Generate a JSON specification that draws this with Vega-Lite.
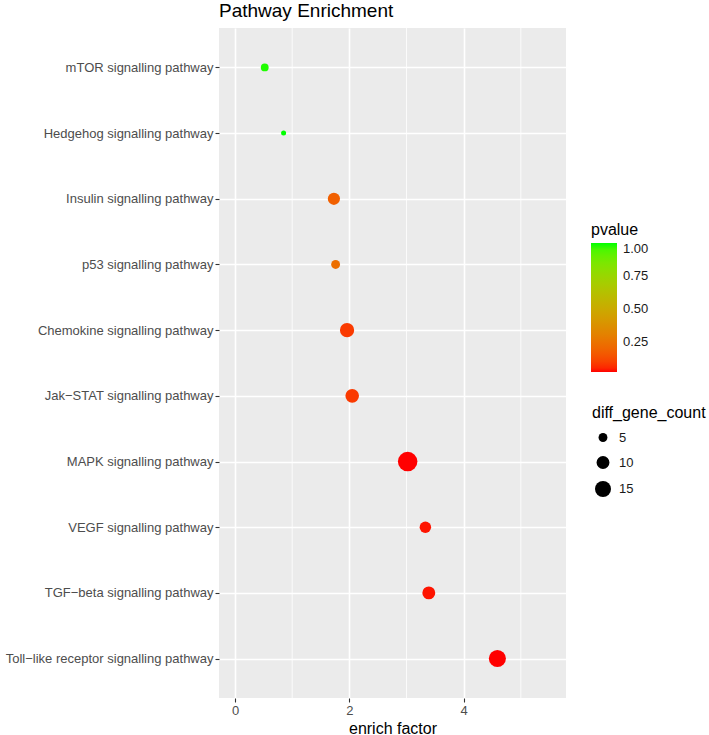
{
  "$schema": "https://vega.github.io/schema/vega-lite/v6.json",
  "width": 347,
  "height": 670,
  "autosize": {"type": "none"},
  "padding": {"left": 219, "top": 28, "right": 143, "bottom": 37},
  "background": "white",
  "title": {
    "text": "Pathway Enrichment",
    "anchor": "start",
    "frame": "group",
    "fontSize": 19,
    "fontWeight": "normal",
    "font": "Liberation Sans",
    "color": "#000000",
    "baseline": "bottom",
    "offset": -12
  },
  "config": {
    "view": {"fill": "#EBEBEB", "stroke": null},
    "font": "Liberation Sans"
  },
  "datasets": {
    "pathways": [
      {"pathway": "mTOR signalling pathway", "enrich_factor": 0.52, "pvalue": 0.99, "diff_gene_count": 4},
      {"pathway": "Hedgehog signalling pathway", "enrich_factor": 0.85, "pvalue": 1.0, "diff_gene_count": 2},
      {"pathway": "Insulin signalling pathway", "enrich_factor": 1.73, "pvalue": 0.18, "diff_gene_count": 9},
      {"pathway": "p53 signalling pathway", "enrich_factor": 1.76, "pvalue": 0.23, "diff_gene_count": 5},
      {"pathway": "Chemokine signalling pathway", "enrich_factor": 1.96, "pvalue": 0.08, "diff_gene_count": 12},
      {"pathway": "Jak−STAT signalling pathway", "enrich_factor": 2.05, "pvalue": 0.08, "diff_gene_count": 11},
      {"pathway": "MAPK signalling pathway", "enrich_factor": 3.02, "pvalue": 0.02, "diff_gene_count": 22},
      {"pathway": "VEGF signalling pathway", "enrich_factor": 3.33, "pvalue": 0.03, "diff_gene_count": 8},
      {"pathway": "TGF−beta signalling pathway", "enrich_factor": 3.39, "pvalue": 0.03, "diff_gene_count": 10},
      {"pathway": "Toll−like receptor signalling pathway", "enrich_factor": 4.59, "pvalue": 0.02, "diff_gene_count": 17}
    ],
    "minor": [{"v": 1}, {"v": 3}, {"v": 5}]
  },
  "layer": [
    {
      "data": {"name": "minor"},
      "mark": {"type": "rule", "color": "#FFFFFF", "strokeWidth": 0.8},
      "encoding": {
        "x": {
          "field": "v",
          "type": "quantitative",
          "title": "enrich factor",
          "scale": {"domain": [-0.28, 5.79], "nice": false, "zero": false}
        }
      }
    },
    {
      "data": {"name": "pathways"},
      "mark": {"type": "circle", "opacity": 1},
      "encoding": {
        "x": {
          "field": "enrich_factor",
          "type": "quantitative",
          "title": "enrich factor",
          "scale": {"domain": [-0.28, 5.79], "nice": false, "zero": false},
          "axis": {
            "values": [0, 2, 4],
            "format": "d",
            "grid": true,
            "gridColor": "#FFFFFF",
            "gridWidth": 1.6,
            "domain": false,
            "tickColor": "#333333",
            "tickSize": 4,
            "tickWidth": 1.1,
            "labelFontSize": 13,
            "labelColor": "#4D4D4D",
            "labelPadding": 2,
            "titleFontSize": 16,
            "titleFontWeight": "normal",
            "titleColor": "#000000",
            "titlePadding": 3
          }
        },
        "y": {
          "field": "pathway",
          "type": "nominal",
          "sort": null,
          "title": null,
          "scale": {"type": "point", "padding": 0.6},
          "axis": {
            "grid": true,
            "gridColor": "#FFFFFF",
            "gridWidth": 1.6,
            "domain": false,
            "tickColor": "#333333",
            "tickSize": 4,
            "tickWidth": 1.1,
            "labelFontSize": 13,
            "labelColor": "#4D4D4D",
            "labelPadding": 2,
            "labelLimit": 300
          }
        },
        "color": {
          "field": "pvalue",
          "type": "quantitative",
          "title": "pvalue",
          "scale": {"range": ["#FF0000", "#00FF00"], "interpolate": "lab", "zero": false, "nice": false},
          "legend": {
            "orient": "none",
            "legendX": 372,
            "legendY": 194,
            "direction": "vertical",
            "gradientLength": 129,
            "gradientThickness": 26,
            "gradientStrokeWidth": 0,
            "values": [0.25, 0.5, 0.75, 1.0],
            "format": ".2f",
            "labelFontSize": 13,
            "labelColor": "#1A1A1A",
            "labelOffset": 6,
            "titleFontSize": 16,
            "titleFontWeight": "normal",
            "titleColor": "#000000",
            "titlePadding": 5,
            "padding": 0
          }
        },
        "size": {
          "field": "diff_gene_count",
          "type": "quantitative",
          "title": "diff_gene_count",
          "scale": {"domain": [2, 22], "range": [25.5, 380], "zero": false, "nice": false},
          "legend": {
            "orient": "none",
            "legendX": 373,
            "legendY": 377,
            "values": [5, 10, 15],
            "symbolType": "circle",
            "symbolFillColor": "#000000",
            "symbolStrokeWidth": 0,
            "symbolOpacity": 1,
            "symbolOffset": 3,
            "labelOffset": 8,
            "rowPadding": 11,
            "labelFontSize": 13,
            "labelColor": "#1A1A1A",
            "titleFontSize": 16,
            "titleFontWeight": "normal",
            "titleColor": "#000000",
            "titlePadding": 10,
            "padding": 0
          }
        }
      }
    }
  ]
}
